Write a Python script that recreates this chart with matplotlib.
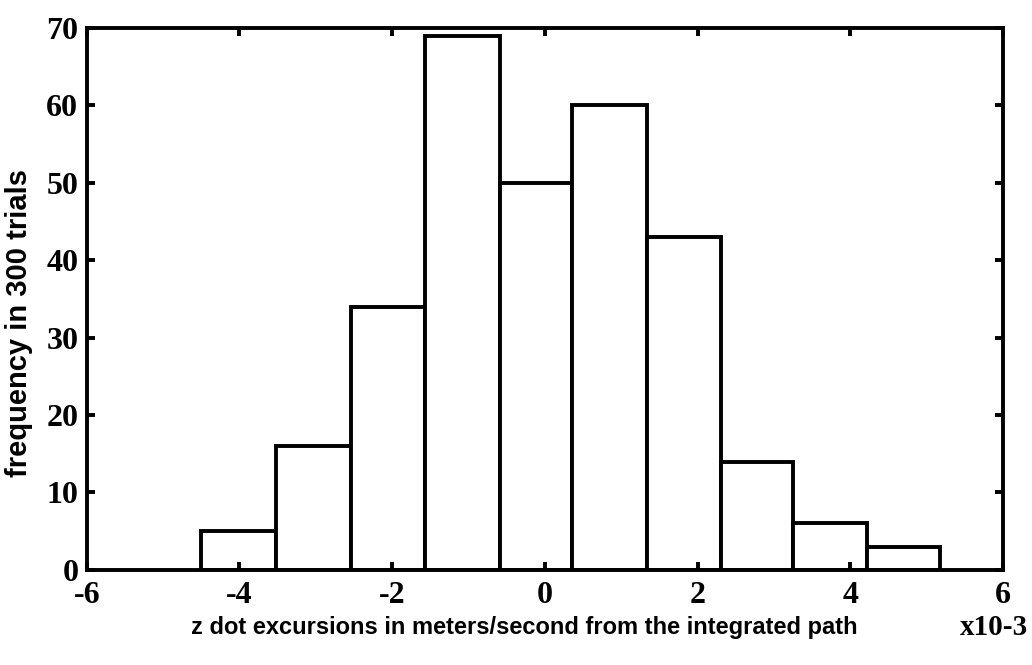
import matplotlib.pyplot as plt

# bin edges (x10-3 m/s) and counts
bin_edges = [-4.50, -3.52, -2.54, -1.57, -0.59, 0.36, 1.34, 2.30, 3.25, 4.22, 5.18]
counts = [5, 16, 34, 69, 50, 60, 43, 14, 6, 3]
x_ticks = [-6, -4, -2, 0, 2, 4, 6]
y_ticks = [0, 10, 20, 30, 40, 50, 60, 70]

fig = plt.figure(figsize=(10.32, 6.65), dpi=100)
ax = fig.add_axes([0.084, 0.143, 0.888, 0.815])

lefts = bin_edges[:-1]
widths = [b - a for a, b in zip(bin_edges[:-1], bin_edges[1:])]
ax.bar(lefts, counts, width=widths, align='edge', color='white',
       edgecolor='black', linewidth=2.8)

ax.set_xlim(-6, 6)
ax.set_ylim(0, 70)
ax.set_xticks(x_ticks)
ax.set_yticks(y_ticks)
ax.set_xticklabels([str(t) for t in x_ticks], family='Liberation Serif',
                   fontsize=23, fontweight='bold')
ax.set_yticklabels([str(t) for t in y_ticks], family='Liberation Serif',
                   fontsize=23, fontweight='bold')
ax.tick_params(direction='in', length=6, width=2.8, top=True, right=True)
ax.tick_params(axis='x', pad=8)
ax.tick_params(axis='y', pad=6)

for s in ax.spines.values():
    s.set_linewidth(2.8)

ax.set_ylabel('frequency in 300 trials', family='Liberation Sans', fontsize=21,
              fontweight='bold')
ax.yaxis.set_label_coords(-0.059, 0.456)
fig.text(0.508, 0.057, 'z dot excursions in meters/second from the integrated path',
         family='Liberation Sans', fontsize=17, fontweight='bold',
         ha='center', va='center')
fig.text(0.963, 0.057, 'x10-3', family='Liberation Serif', fontsize=21,
         fontweight='bold', ha='center', va='center')

fig.savefig('out.png', dpi=100)
